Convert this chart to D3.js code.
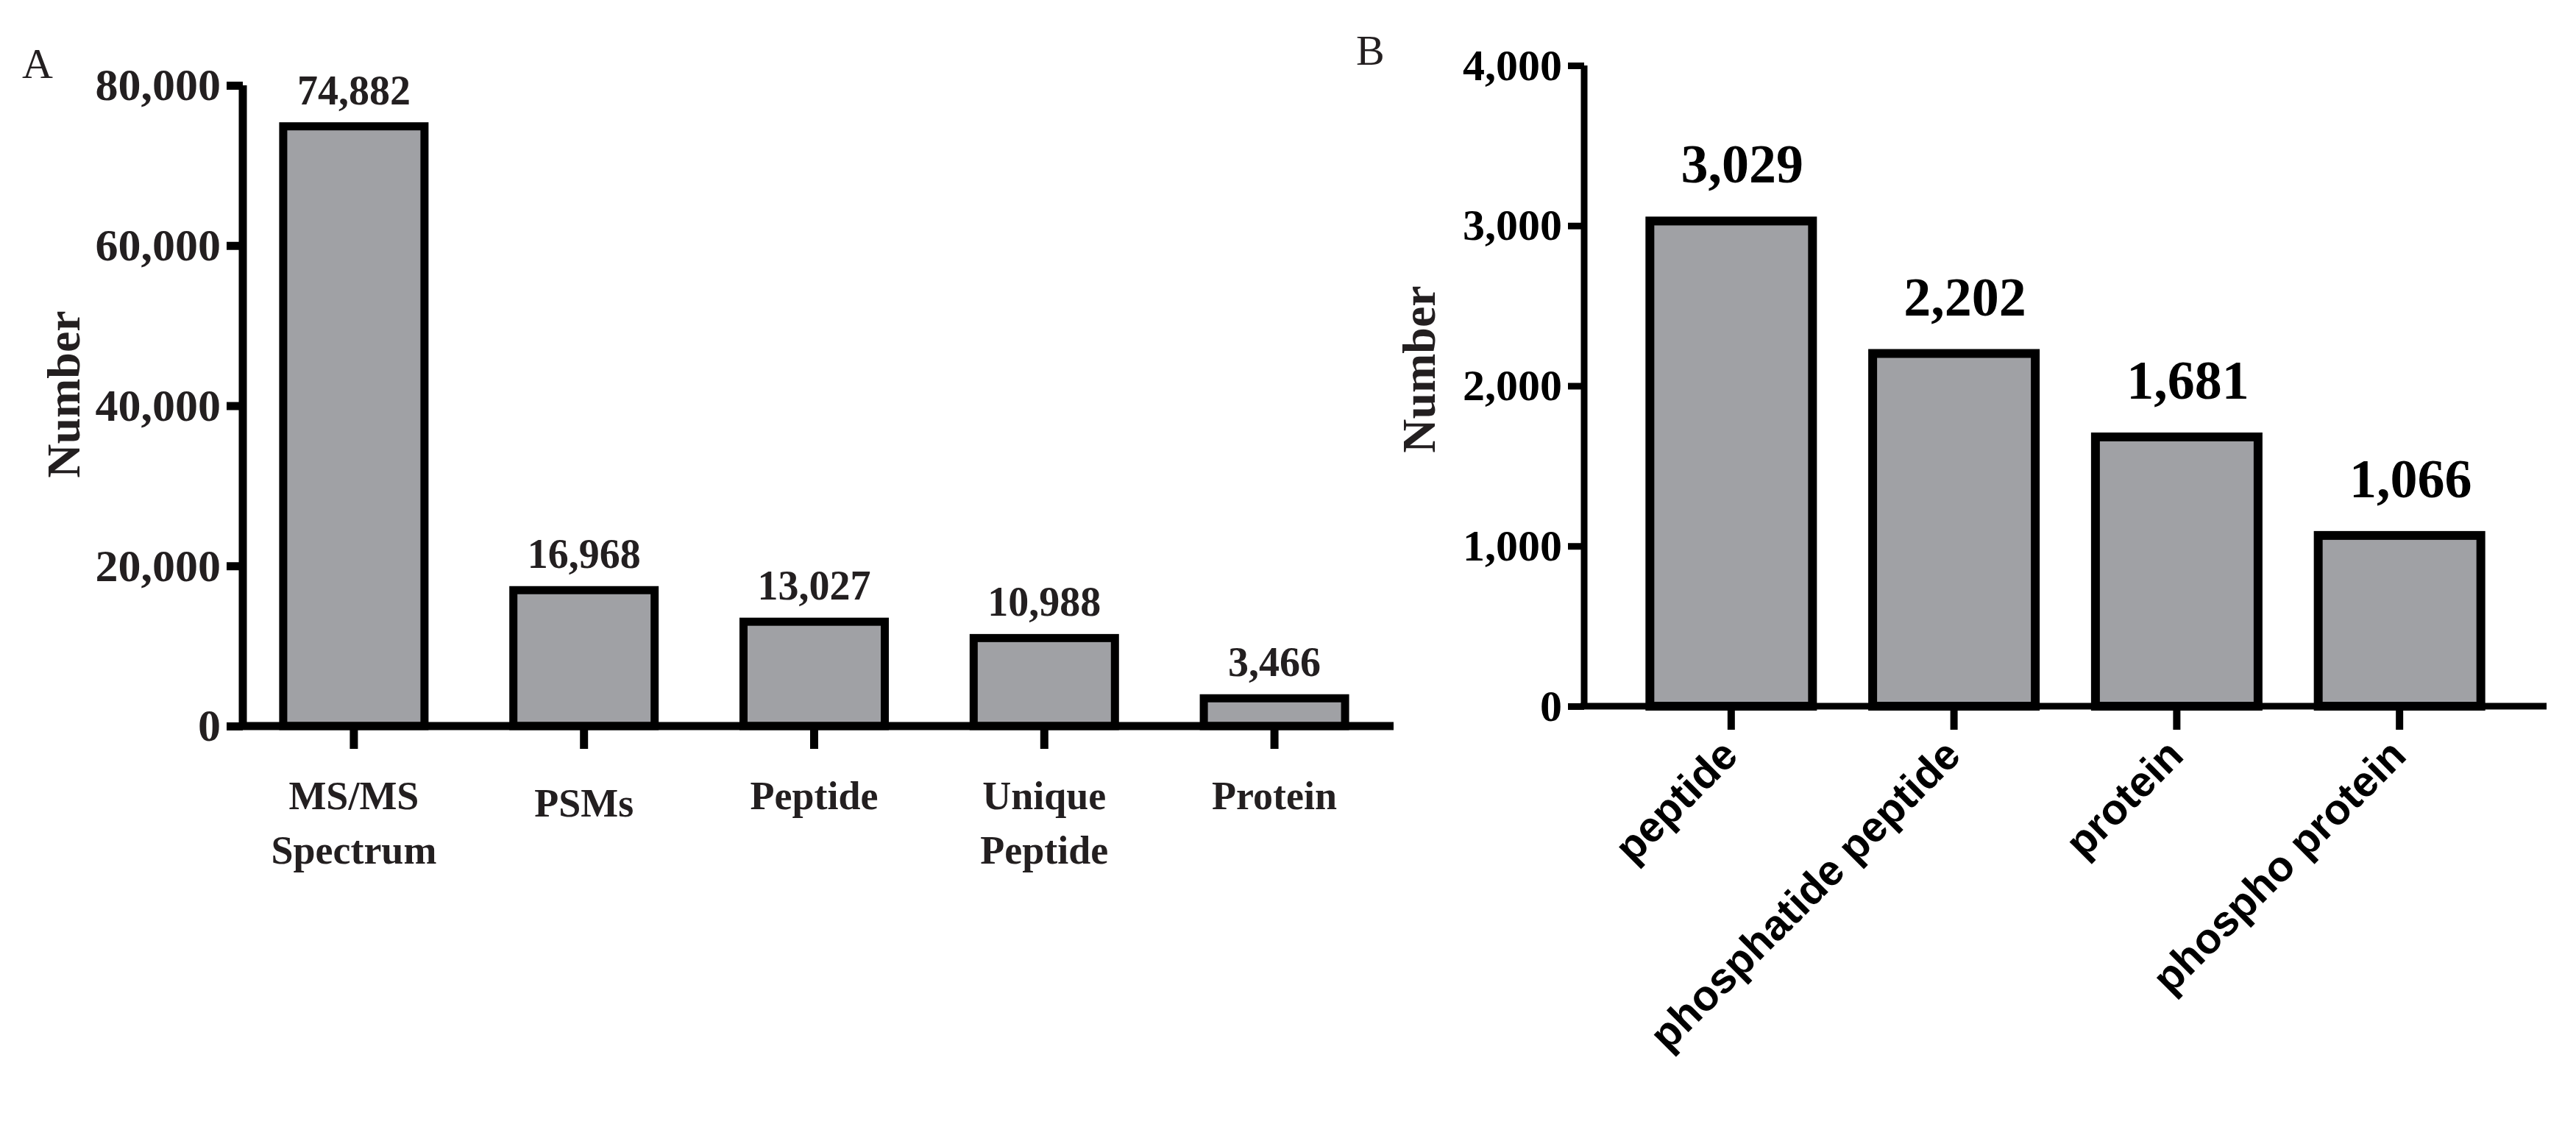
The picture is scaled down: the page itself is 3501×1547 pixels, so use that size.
<!DOCTYPE html>
<html><head><meta charset="utf-8">
<script src="https://cdn.jsdelivr.net/npm/d3@7"></script>
<style>body{margin:0;background:#fff}</style>
</head><body>
<script>
const catsA = [["MS/MS","Spectrum"],["PSMs"],["Peptide"],["Unique","Peptide"],["Protein"]];
const valsA = [74882, 16968, 13027, 10988, 3466];
const ticksA = [0, 20000, 40000, 60000, 80000];
const catsB = ["peptide","phosphatide peptide","protein","phospho protein"];
const valsB = [3029, 2202, 1681, 1066];
const ticksB = [0, 1000, 2000, 3000, 4000];

const W=3501,H=1547;
const svg=d3.select("body").append("svg").attr("width",W).attr("height",H);
const fmt=d3.format(",");
const serif="'Liberation Serif','Times New Roman',serif";
const fill="#a0a1a5";

// Panel A
{
  const y=d3.scaleLinear().domain([0,80000]).range([987,116]);
  const x=d3.scaleBand().domain(d3.range(5)).range([373,1840]).paddingInner(0.35).paddingOuter(0.02);
  const g=svg.append("g");
  // bars
  const bw=192;
  valsA.forEach((v,i)=>{
    const cx=x(i)+x.bandwidth()/2;
    g.append("rect").attr("x",cx-bw/2).attr("y",y(v)).attr("width",bw).attr("height",y(0)-y(v))
      .attr("fill",fill).attr("stroke","#000").attr("stroke-width",11);
    g.append("text").attr("x",cx).attr("y",y(v)-30).attr("text-anchor","middle")
      .attr("font-family",serif).attr("font-weight","bold").attr("font-size",56).attr("fill","#231f20").text(fmt(v));
    g.append("line").attr("x1",cx).attr("x2",cx).attr("y1",987).attr("y2",1018).attr("stroke","#000").attr("stroke-width",11);
    const lines=catsA[i];
    lines.forEach((t,j)=>{
      g.append("text").attr("x",cx).attr("y",(lines.length===1&&i===1?1110:1100)+j*74).attr("text-anchor","middle")
        .attr("font-family",serif).attr("font-weight","bold").attr("font-size",54).attr("fill","#231f20").text(t);
    });
  });
  const ax=g.append("g").attr("transform","translate(330,0)").call(d3.axisLeft(y).tickValues(ticksA).tickFormat(fmt).tickSize(22).tickPadding(8));
  ax.select(".domain").attr("stroke-width",11).attr("d","M0,116V987");
  ax.selectAll(".tick line").attr("stroke-width",11);
  ax.selectAll("text").attr("font-family",serif).attr("font-weight","bold").attr("font-size",62).attr("fill","#231f20");
  g.append("line").attr("x1",325).attr("x2",1894).attr("y1",987).attr("y2",987).attr("stroke","#000").attr("stroke-width",11);
  g.append("text").attr("transform","translate(108,536) rotate(-90)").attr("text-anchor","middle")
    .attr("font-family",serif).attr("font-weight","bold").attr("font-size",64).attr("fill","#231f20").text("Number");
  svg.append("text").attr("x",30).attr("y",106).attr("font-family",serif).attr("font-size",58).attr("fill","#231f20").text("A");
}
// Panel B
{
  const y=d3.scaleLinear().domain([0,4000]).range([960,89]);
  const x=d3.scaleBand().domain(d3.range(4)).range([2153,3461]).paddingInner(0.32).paddingOuter(0.32);
  const g=svg.append("g");
  const bw=221;
  valsB.forEach((v,i)=>{
    const cx=x(i)+x.bandwidth()/2;
    g.append("rect").attr("x",cx-bw/2).attr("y",y(v)).attr("width",bw).attr("height",y(0)-y(v))
      .attr("fill",fill).attr("stroke","#000").attr("stroke-width",12);
    g.append("text").attr("x",cx+15).attr("y",y(v)-52).attr("text-anchor","middle")
      .attr("font-family",serif).attr("font-weight","bold").attr("font-size",74).attr("fill","#000").text(fmt(v));
    g.append("line").attr("x1",cx).attr("x2",cx).attr("y1",960).attr("y2",992).attr("stroke","#000").attr("stroke-width",10);
    g.append("text").attr("transform",`translate(${cx+12},${1030}) rotate(-45)`).attr("text-anchor","end")
      .attr("font-family","'Liberation Sans',Arial,sans-serif").attr("font-weight","bold").attr("font-size",58).attr("fill","#000").text(catsB[i]);
  });
  const ax=g.append("g").attr("transform","translate(2153,0)").call(d3.axisLeft(y).tickValues(ticksB).tickFormat(fmt).tickSize(22).tickPadding(8));
  ax.select(".domain").attr("stroke-width",9).attr("d","M0,89V960");
  ax.selectAll(".tick line").attr("stroke-width",9);
  ax.selectAll("text").attr("font-family",serif).attr("font-weight","bold").attr("font-size",60).attr("fill","#000");
  g.append("line").attr("x1",2148).attr("x2",3461).attr("y1",960).attr("y2",960).attr("stroke","#000").attr("stroke-width",9);
  g.append("text").attr("transform","translate(1950,502) rotate(-90)").attr("text-anchor","middle")
    .attr("font-family",serif).attr("font-weight","bold").attr("font-size",64).attr("fill","#231f20").text("Number");
  svg.append("text").attr("x",1843).attr("y",88).attr("font-family",serif).attr("font-size",58).attr("fill","#231f20").text("B");
}
</script>
</body></html>
